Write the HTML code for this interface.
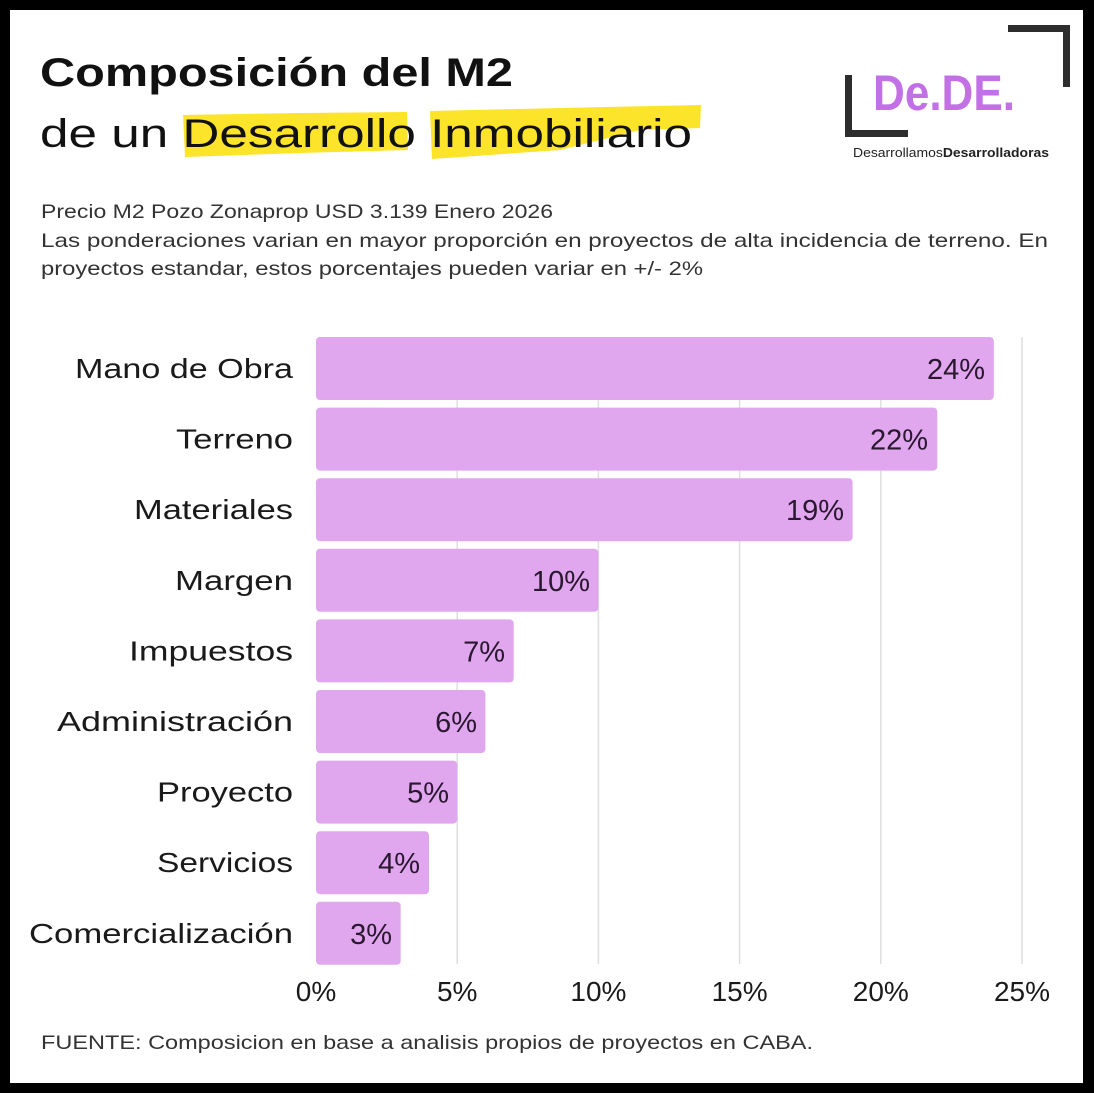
<!DOCTYPE html>
<html>
<head>
<meta charset="utf-8">
<style>
  html,body{margin:0;padding:0;background:#000;}
  svg{display:block;}
  text{font-family:"Liberation Sans", sans-serif;}
</style>
</head>
<body>
<svg width="1094" height="1093" viewBox="0 0 1094 1093" xmlns="http://www.w3.org/2000/svg">
  <rect x="0" y="0" width="1094" height="1093" fill="#000"/>
  <rect x="10" y="10" width="1073" height="1073" fill="#fff"/>

  <!-- highlights -->
  <path d="M183,115 L300,113 L407,112 L408,150 L300,153 L185,157 Z" fill="#fbe42a"/>
  <path d="M430,111 L560,108 L701,105 L700,128 L640,130 L560,150 L432,159 Z" fill="#fbe42a"/>

  <!-- title -->
  <text x="40" y="86" font-size="40" font-weight="bold" fill="#111" textLength="473" lengthAdjust="spacingAndGlyphs">Composición del M2</text>
  <text x="40" y="147" font-size="40" fill="#111" textLength="652" lengthAdjust="spacingAndGlyphs">de un Desarrollo Inmobiliario</text>

  <!-- logo -->
  <rect x="1008" y="25" width="62" height="7" fill="#2d2d2d"/>
  <rect x="1063" y="25" width="7" height="62" fill="#2d2d2d"/>
  <rect x="845" y="75" width="7" height="62" fill="#2d2d2d"/>
  <rect x="845" y="130" width="63" height="7" fill="#2d2d2d"/>
  <text x="873" y="110" font-size="50" font-weight="bold" fill="#c270e6" textLength="142" lengthAdjust="spacingAndGlyphs">De.DE.</text>
  <text x="853" y="157" font-size="12.5" fill="#222" textLength="196" lengthAdjust="spacingAndGlyphs">Desarrollamos<tspan font-weight="bold">Desarrolladoras</tspan></text>

  <!-- subtitle -->
  <text x="41" y="218" font-size="19.5" fill="#333" textLength="512" lengthAdjust="spacingAndGlyphs">Precio M2 Pozo Zonaprop USD 3.139 Enero 2026</text>
  <text x="41" y="247" font-size="19.5" fill="#333" textLength="1007" lengthAdjust="spacingAndGlyphs">Las ponderaciones varian en mayor proporción en proyectos de alta incidencia de terreno. En</text>
  <text x="41" y="275" font-size="19.5" fill="#333" textLength="662" lengthAdjust="spacingAndGlyphs">proyectos estandar, estos porcentajes pueden variar en +/- 2%</text>

  <!-- gridlines -->
  <g stroke="#dedede" stroke-width="1.5">
    <line x1="457.2" y1="337" x2="457.2" y2="964"/>
    <line x1="598.4" y1="337" x2="598.4" y2="964"/>
    <line x1="739.6" y1="337" x2="739.6" y2="964"/>
    <line x1="880.8" y1="337" x2="880.8" y2="964"/>
    <line x1="1022" y1="337" x2="1022" y2="964"/>
  </g>

  <!-- bars -->
  <g fill="#e0a7ee">
    <rect x="316" y="337" width="677.8" height="63" rx="4"/>
    <rect x="316" y="407.6" width="621.3" height="63" rx="4"/>
    <rect x="316" y="478.2" width="536.6" height="63" rx="4"/>
    <rect x="316" y="548.8" width="282.4" height="63" rx="4"/>
    <rect x="316" y="619.4" width="197.7" height="63" rx="4"/>
    <rect x="316" y="690" width="169.4" height="63" rx="4"/>
    <rect x="316" y="760.6" width="141.2" height="63" rx="4"/>
    <rect x="316" y="831.2" width="113" height="63" rx="4"/>
    <rect x="316" y="901.8" width="84.7" height="63" rx="4"/>
  </g>

  <!-- category labels -->
  <g font-size="28" fill="#1a1a1a" text-anchor="end">
    <text x="293" y="378" textLength="218" lengthAdjust="spacingAndGlyphs">Mano de Obra</text>
    <text x="293" y="448.6" textLength="117" lengthAdjust="spacingAndGlyphs">Terreno</text>
    <text x="293" y="519.2" textLength="159" lengthAdjust="spacingAndGlyphs">Materiales</text>
    <text x="293" y="589.8" textLength="118" lengthAdjust="spacingAndGlyphs">Margen</text>
    <text x="293" y="660.4" textLength="164" lengthAdjust="spacingAndGlyphs">Impuestos</text>
    <text x="293" y="731" textLength="236" lengthAdjust="spacingAndGlyphs">Administración</text>
    <text x="293" y="801.6" textLength="136" lengthAdjust="spacingAndGlyphs">Proyecto</text>
    <text x="293" y="872.2" textLength="136" lengthAdjust="spacingAndGlyphs">Servicios</text>
    <text x="293" y="942.8" textLength="264" lengthAdjust="spacingAndGlyphs">Comercialización</text>
  </g>

  <!-- value labels -->
  <g font-size="29" fill="#2a1830" text-anchor="end">
    <text x="985" y="379">24%</text>
    <text x="928" y="449.6">22%</text>
    <text x="844" y="520.2">19%</text>
    <text x="590" y="590.8">10%</text>
    <text x="505" y="661.4">7%</text>
    <text x="477" y="732">6%</text>
    <text x="449" y="802.6">5%</text>
    <text x="420" y="873.2">4%</text>
    <text x="392" y="943.8">3%</text>
  </g>

  <!-- tick labels -->
  <g font-size="28" fill="#1a1a1a" text-anchor="middle">
    <text x="316" y="1001">0%</text>
    <text x="457.2" y="1001">5%</text>
    <text x="598.4" y="1001">10%</text>
    <text x="739.6" y="1001">15%</text>
    <text x="880.8" y="1001">20%</text>
    <text x="1022" y="1001">25%</text>
  </g>

  <!-- footer -->
  <text x="41" y="1049" font-size="19.5" fill="#333" textLength="772" lengthAdjust="spacingAndGlyphs">FUENTE: Composicion en base a analisis propios de proyectos en CABA.</text>
</svg>
</body>
</html>
